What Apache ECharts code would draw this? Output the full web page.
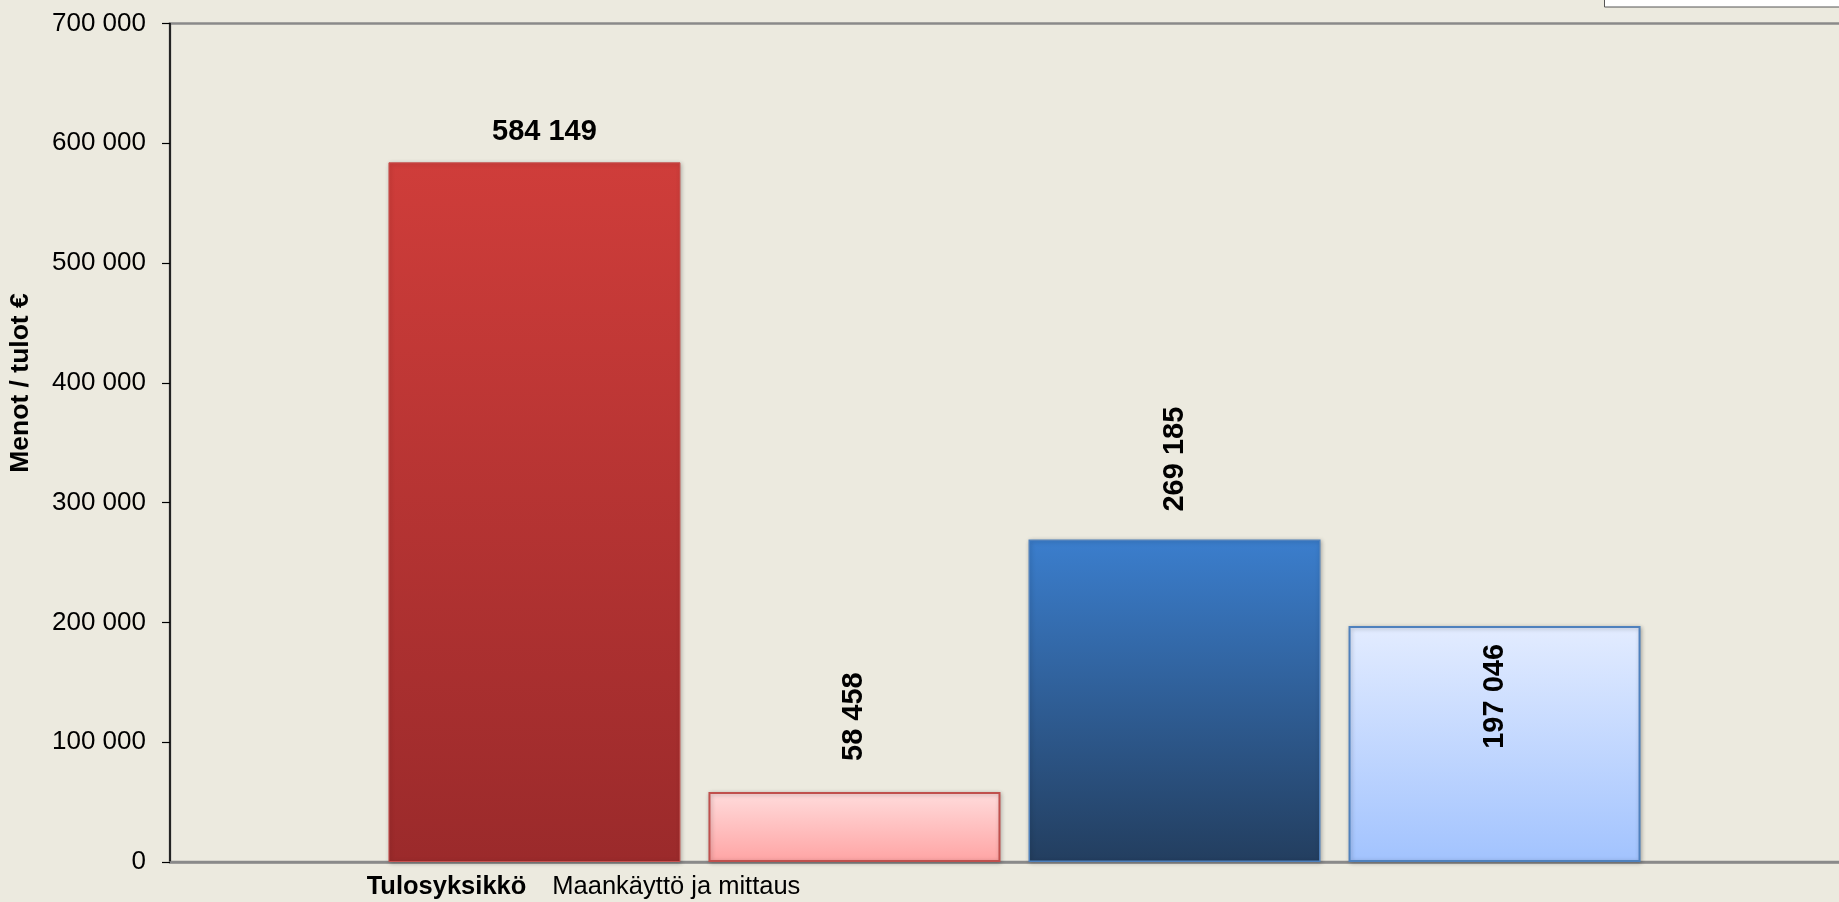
<!DOCTYPE html>
<html>
<head>
<meta charset="utf-8">
<script src="https://cdn.jsdelivr.net/npm/echarts@6/dist/echarts.min.js"></script>
<style>
  html, body { margin: 0; padding: 0; background: #ECEADF; overflow: hidden; }
  /* plot runs on past the right edge of the window, as in the original */
  #chart { width: 1859px; height: 902px; }
</style>
</head>
<body>
<div id="chart"></div>
<script>
// data
const fieldName = 'Tulosyksikkö'
const categories = ['Maankäyttö ja mittaus']
const seriesNames = ['Menot 1', 'Menot 2', 'Tulot 1', 'Tulot 2']
const menot1 = [584149]
const menot2 = [58458]
const tulot1 = [269185]
const tulot2 = [197046]
const yAxisName = 'Menot / tulot €'
const yMin = 0
const yMax = 700000
const yStep = 100000

const FONT = '"Liberation Sans", Arial, sans-serif'

const fmt = v => String(v).replace(/\B(?=(\d{3})+(?!\d))/g, ' ')

const grad = (top, bottom) => new echarts.graphic.LinearGradient(0, 0, 0, 1, [
    { offset: 0, color: top },
    { offset: 1, color: bottom }
])

const labelBase = {
    show: true,
    color: '#000',
    fontFamily: FONT,
    fontWeight: 'bold',
    fontSize: 29,
    formatter: p => fmt(p.value)
}

const shadow = {
    shadowBlur: 4,
    shadowColor: 'rgba(0,0,0,0.25)',
    shadowOffsetX: 1,
    shadowOffsetY: 1
}

const chart = echarts.init(document.getElementById('chart'))

chart.setOption({
    backgroundColor: '#ECEADF',
    animation: false,
    grid: {
        left: 170, right: 0, top: 23.5, bottom: 40,
        show: true,
        borderColor: '#8a8a8a',
        borderWidth: 2.5,
        backgroundColor: 'transparent'
    },
    xAxis: {
        type: 'category',
        data: categories,
        axisLine: { lineStyle: { color: '#8a8a8a', width: 2.5 } },
        axisTick: { show: false },
        axisLabel: {
            margin: 12,
            padding: [0, 862, 0, 0],
            formatter: v => '{b|' + fieldName + '}{r|' + v + '}',
            rich: {
                b: { fontFamily: FONT, fontSize: 25.5, fontWeight: 'bold', color: '#000', padding: [0, 26, 0, 0] },
                r: { fontFamily: FONT, fontSize: 25.5, color: '#000' }
            }
        }
    },
    yAxis: {
        type: 'value',
        min: yMin,
        max: yMax,
        interval: yStep,
        axisLine: { show: true, lineStyle: { color: '#000', width: 1.5 } },
        axisTick: { show: true, length: 8, lineStyle: { color: '#000', width: 1.2 } },
        splitLine: { show: false },
        axisLabel: {
            margin: 24,
            color: '#000',
            fontFamily: FONT,
            fontSize: 26,
            formatter: v => fmt(v)
        }
    },
    graphic: [
        {
            type: 'text',
            x: 21, y: 383,
            rotation: Math.PI / 2,
            style: {
                text: yAxisName,
                font: 'bold 26.5px ' + FONT,
                fill: '#000',
                textAlign: 'center',
                textVerticalAlign: 'middle'
            }
        },
        {
            // legend box, cut off at the top right
            type: 'rect',
            shape: { x: 1604.5, y: -5, width: 300, height: 12 },
            style: { fill: '#fff', stroke: '#555', lineWidth: 1 }
        }
    ],
    series: [
        {
            name: seriesNames[0],
            type: 'bar',
            data: menot1,
            barWidth: 292,
            barGap: '9.6%',
            itemStyle: Object.assign({ color: grad('#CF3D3A', '#9B2A2B'), borderColor: '#C75552', borderWidth: 1 }, shadow),
            label: Object.assign({}, labelBase, { position: 'top', distance: 16, offset: [10, 0] })
        },
        {
            name: seriesNames[1],
            type: 'bar',
            data: menot2,
            barWidth: 292,
            barGap: '9.6%',
            itemStyle: Object.assign({ color: grad('#FFDCDC', '#FFA4A4'), borderColor: '#C0504D', borderWidth: 2 }, shadow),
            label: Object.assign({}, labelBase, { position: 'top', distance: 28, rotate: 90, align: 'left', verticalAlign: 'middle', offset: [3, 0] })
        },
        {
            name: seriesNames[2],
            type: 'bar',
            data: tulot1,
            barWidth: 292,
            barGap: '9.6%',
            itemStyle: Object.assign({ color: grad('#3B7ECD', '#233E5F'), borderColor: '#4F81BD', borderWidth: 1.5 }, shadow),
            label: Object.assign({}, labelBase, { position: 'top', distance: 25, rotate: 90, align: 'left', verticalAlign: 'middle', offset: [3, 0] })
        },
        {
            name: seriesNames[3],
            type: 'bar',
            data: tulot2,
            barWidth: 292,
            barGap: '9.6%',
            itemStyle: Object.assign({ color: grad('#E3ECFF', '#A2C3FE'), borderColor: '#4F81BD', borderWidth: 2 }, shadow),
            label: Object.assign({}, labelBase, { position: 'insideTop', distance: 21, rotate: 90, align: 'right', verticalAlign: 'middle', offset: [3, 0] })
        }
    ]
})
</script>
</body>
</html>
